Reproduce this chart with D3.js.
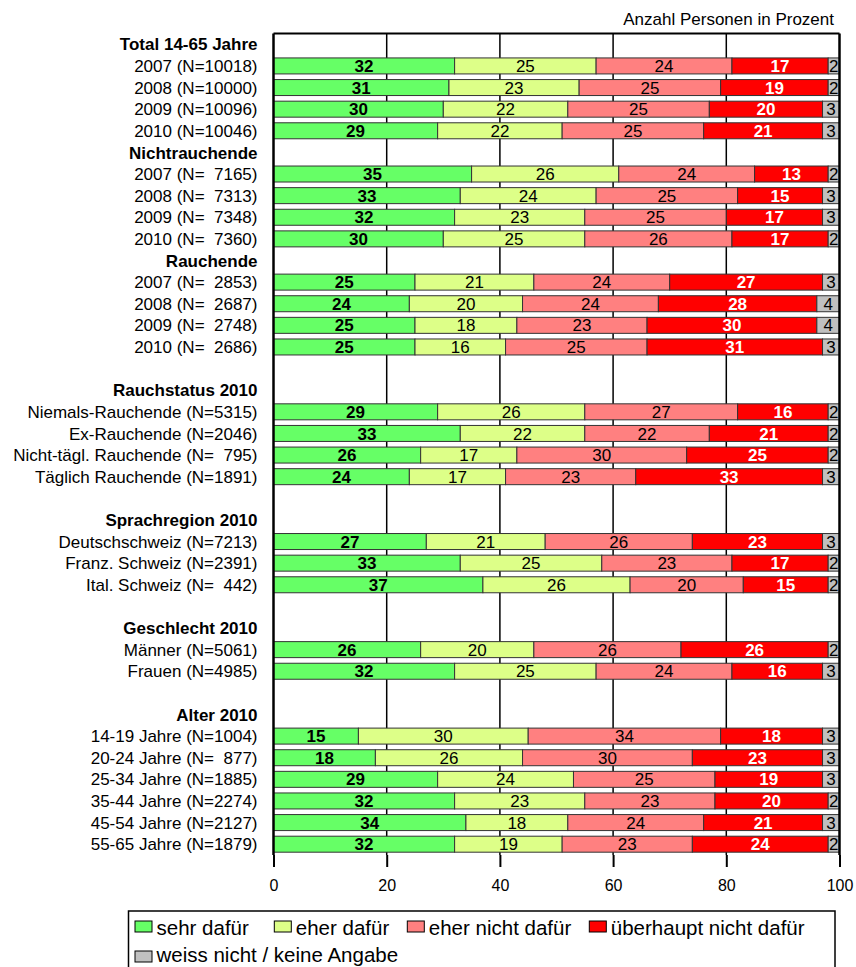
<!DOCTYPE html>
<html lang="de">
<head>
<meta charset="UTF-8">
<script src="https://cdn.jsdelivr.net/npm/d3@7"></script>
<style>
    body { margin: 0; background: #fff; }
    svg { display: block; font-family: "Liberation Sans", Arial, sans-serif; }
    text { white-space: pre; }
</style>
</head>
<body>
<div id="chart"></div>
<script>
    // rows: type "h" = group header, "r" = data row, "b" = blank spacer
    const rowLabels = [
        "Total 14-65 Jahre", "2007 (N=10018)", "2008 (N=10000)", "2009 (N=10096)", "2010 (N=10046)",
        "Nichtrauchende", "2007 (N=  7165)", "2008 (N=  7313)", "2009 (N=  7348)", "2010 (N=  7360)",
        "Rauchende", "2007 (N=  2853)", "2008 (N=  2687)", "2009 (N=  2748)", "2010 (N=  2686)",
        "",
        "Rauchstatus 2010", "Niemals-Rauchende (N=5315)", "Ex-Rauchende (N=2046)", "Nicht-tägl. Rauchende (N=  795)", "Täglich Rauchende (N=1891)",
        "",
        "Sprachregion 2010", "Deutschschweiz (N=7213)", "Franz. Schweiz (N=2391)", "Ital. Schweiz (N=  442)",
        "",
        "Geschlecht 2010", "Männer (N=5061)", "Frauen (N=4985)",
        "",
        "Alter 2010", "14-19 Jahre (N=1004)", "20-24 Jahre (N=  877)", "25-34 Jahre (N=1885)", "35-44 Jahre (N=2274)", "45-54 Jahre (N=2127)", "55-65 Jahre (N=1879)"
    ];
    const rowTypes = [
        "h","r","r","r","r",
        "h","r","r","r","r",
        "h","r","r","r","r",
        "b",
        "h","r","r","r","r",
        "b",
        "h","r","r","r",
        "b",
        "h","r","r",
        "b",
        "h","r","r","r","r","r","r"
    ];

    const seriesNames = ["sehr dafür", "eher dafür", "eher nicht dafür", "überhaupt nicht dafür", "weiss nicht / keine Angabe"];
    const seriesColors = ["#66ff66", "#ddff88", "#ff8080", "#ff0000", "#c0c0c0"];

    // values per series, null for header / blank rows
    const sehrDafuer = [
        null, 32, 31, 30, 29,
        null, 35, 33, 32, 30,
        null, 25, 24, 25, 25,
        null,
        null, 29, 33, 26, 24,
        null,
        null, 27, 33, 37,
        null,
        null, 26, 32,
        null,
        null, 15, 18, 29, 32, 34, 32
    ];
    const eherDafuer = [
        null, 25, 23, 22, 22,
        null, 26, 24, 23, 25,
        null, 21, 20, 18, 16,
        null,
        null, 26, 22, 17, 17,
        null,
        null, 21, 25, 26,
        null,
        null, 20, 25,
        null,
        null, 30, 26, 24, 23, 18, 19
    ];
    const eherNichtDafuer = [
        null, 24, 25, 25, 25,
        null, 24, 25, 25, 26,
        null, 24, 24, 23, 25,
        null,
        null, 27, 22, 30, 23,
        null,
        null, 26, 23, 20,
        null,
        null, 26, 24,
        null,
        null, 34, 30, 25, 23, 24, 23
    ];
    const ueberhauptNicht = [
        null, 17, 19, 20, 21,
        null, 13, 15, 17, 17,
        null, 27, 28, 30, 31,
        null,
        null, 16, 21, 25, 33,
        null,
        null, 23, 17, 15,
        null,
        null, 26, 16,
        null,
        null, 18, 23, 19, 20, 21, 24
    ];
    const weissNicht = [
        null, 2, 2, 3, 3,
        null, 2, 3, 3, 2,
        null, 3, 4, 4, 3,
        null,
        null, 2, 2, 2, 3,
        null,
        null, 3, 2, 2,
        null,
        null, 2, 3,
        null,
        null, 3, 3, 3, 2, 3, 2
    ];
    const xTicks = [0, 20, 40, 60, 80, 100];

    const seriesValues = [sehrDafuer, eherDafuer, eherNichtDafuer, ueberhauptNicht, weissNicht];
    // label styling per series
    const labelBold = [true, false, false, true, false];
    const labelColor = ["#000", "#000", "#000", "#fff", "#000"];

    const width = 856, height = 967;
    const plotLeft = 273.5, plotRight = 839.5, plotTop = 33.5, plotBottom = 855;

    const svg = d3.select("#chart").append("svg")
        .attr("width", width)
        .attr("height", height);

    const x = d3.scaleLinear().domain([0, 100]).range([plotLeft, plotRight]);
    const y = d3.scaleBand()
        .domain(d3.range(rowLabels.length))
        .range([plotTop, plotBottom])
        .paddingInner(0.26)
        .paddingOuter(0.13);

    // title
    svg.append("text")
        .attr("x", 834).attr("y", 25)
        .attr("text-anchor", "end")
        .attr("font-size", 17)
        .text("Anzahl Personen in Prozent");

    // gridlines
    svg.append("g").selectAll("line")
        .data(xTicks.filter(d => d > 0 && d < 100))
        .join("line")
        .attr("x1", d => x(d)).attr("x2", d => x(d))
        .attr("y1", plotTop).attr("y2", plotBottom)
        .attr("stroke", "#000").attr("stroke-width", 1.5);

    // stacked rows
    const stacked = rowLabels.map((label, i) => {
        if (rowTypes[i] !== "r") return [];
        let acc = 0;
        return seriesValues.map((s, k) => {
            const seg = { row: i, k: k, v: s[i], x0: acc, x1: acc + s[i] };
            acc += s[i];
            return seg;
        });
    }).flat();

    const bars = svg.append("g");
    bars.selectAll("rect")
        .data(stacked)
        .join("rect")
        .attr("x", d => x(d.x0))
        .attr("y", d => y(d.row))
        .attr("width", d => x(d.x1) - x(d.x0))
        .attr("height", y.bandwidth())
        .attr("fill", d => seriesColors[d.k])
        .attr("stroke", "#333")
        .attr("stroke-width", 1);

    bars.selectAll("text")
        .data(stacked)
        .join("text")
        .attr("x", d => (x(d.x0) + x(d.x1)) / 2)
        .attr("y", d => y(d.row) + y.bandwidth() / 2)
        .attr("dy", "0.36em")
        .attr("text-anchor", "middle")
        .attr("font-size", 17)
        .attr("font-weight", d => labelBold[d.k] ? "bold" : "normal")
        .attr("fill", d => labelColor[d.k])
        .text(d => d.v);

    // row labels
    svg.append("g").selectAll("text")
        .data(rowLabels)
        .join("text")
        .attr("x", 257.5)
        .attr("y", (d, i) => y(i) + y.bandwidth() / 2)
        .attr("dy", "0.36em")
        .attr("text-anchor", "end")
        .attr("font-size", 17)
        .attr("font-weight", (d, i) => rowTypes[i] === "h" ? "bold" : "normal")
        .text(d => d);

    // frame: top, left, right
    svg.append("line")
        .attr("x1", plotLeft).attr("x2", plotRight)
        .attr("y1", plotTop).attr("y2", plotTop)
        .attr("stroke", "#000").attr("stroke-width", 2);
    svg.append("line")
        .attr("x1", plotLeft).attr("x2", plotLeft)
        .attr("y1", plotTop).attr("y2", plotBottom)
        .attr("stroke", "#000").attr("stroke-width", 2.5);
    svg.append("line")
        .attr("x1", plotRight).attr("x2", plotRight)
        .attr("y1", plotTop).attr("y2", plotBottom)
        .attr("stroke", "#000").attr("stroke-width", 2.5);

    // x axis
    const xAxis = svg.append("g")
        .attr("transform", `translate(0,${plotBottom})`)
        .call(d3.axisBottom(x).tickValues(xTicks).tickSize(12).tickPadding(13).tickFormat(d3.format("d")));
    xAxis.select(".domain").remove();
    xAxis.selectAll(".tick line").attr("stroke", "#000").attr("stroke-width", 2);
    xAxis.selectAll(".tick text")
        .attr("font-size", 16)
        .attr("font-family", "\"Liberation Sans\", Arial, sans-serif")
        .attr("fill", "#000");

    // legend
    const legendPos = [[135, 921, 14], [274.3, 921, 14], [407.3, 921, 14], [589.3, 921, 14], [135, 951, 11]];
    svg.append("rect")
        .attr("x", 128.5).attr("y", 911)
        .attr("width", 706.5).attr("height", 70)
        .attr("fill", "none").attr("stroke", "#000").attr("stroke-width", 1.5);
    const legend = svg.append("g").selectAll("g")
        .data(seriesNames)
        .join("g")
        .attr("transform", (d, i) => `translate(${legendPos[i][0]},${legendPos[i][1]})`);
    legend.append("rect")
        .attr("width", 17).attr("height", 11)
        .attr("fill", (d, i) => seriesColors[i])
        .attr("stroke", "#000").attr("stroke-width", 1);
    legend.append("text")
        .attr("x", 21.5).attr("y", (d, i) => legendPos[i][2])
        .attr("font-size", 20.5)
        .text(d => d);
</script>
</body>
</html>
